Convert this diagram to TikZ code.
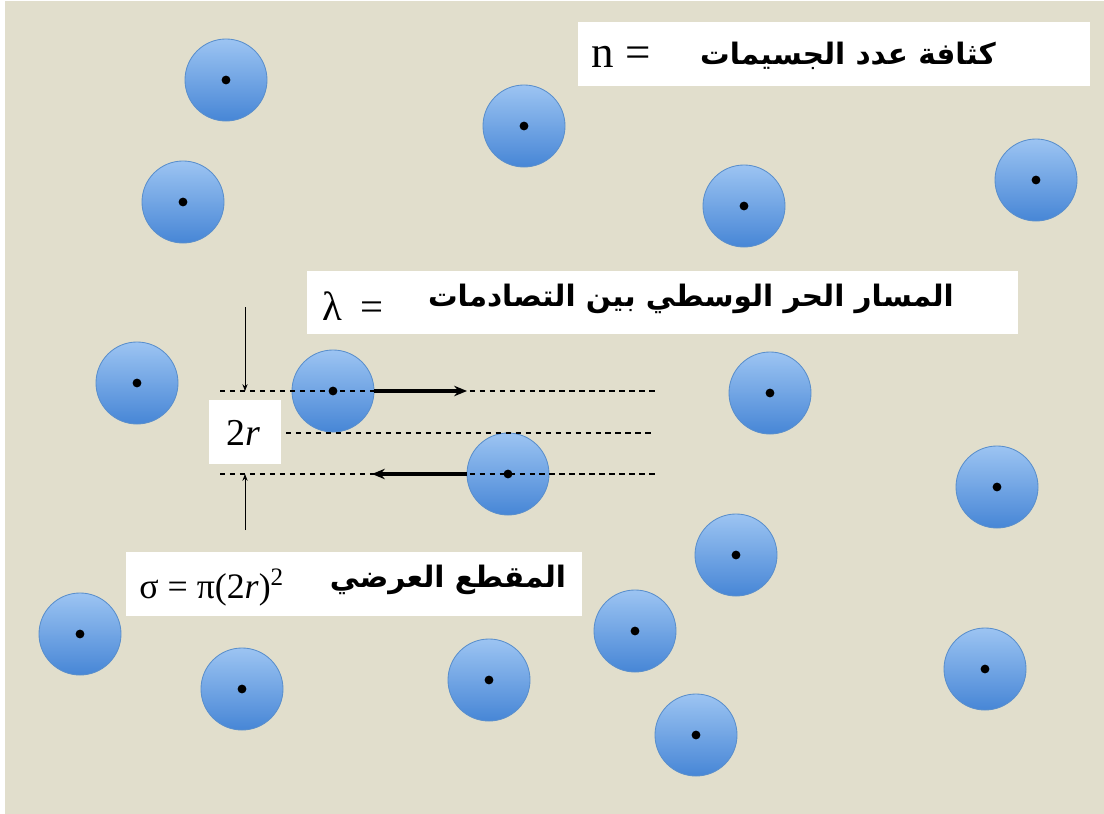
\documentclass[tikz,border=0pt]{standalone}
\usepackage{fontspec}
\setmainfont{Liberation Serif}
\newfontfamily\arabicfont[Script=Arabic]{DejaVu Sans}
\TeXXeTstate=1
\usetikzlibrary{arrows.meta}
\definecolor{bg}{HTML}{E1DECC}
\definecolor{ballTop}{HTML}{9CC4F2}
\definecolor{ballBot}{HTML}{4786D6}
\definecolor{ballEdge}{HTML}{5A8FCC}
\tikzset{
  ball/.style={circle, minimum size=2.05cm, inner sep=0pt, draw=ballEdge, line width=0.6pt,
    top color=ballTop, bottom color=ballBot},
  wbox/.style={fill=white, draw=none, inner sep=0pt},
  lat/.style={inner sep=0pt},
  arab/.style={font=\arabicfont\bfseries\fontsize{21}{25}\selectfont, inner sep=0pt},
  dline/.style={dash pattern=on 3.9pt off 3.2pt, line width=0.8pt},
  thick arrow/.style={line width=2.2pt, -{Stealth[length=0.32cm,width=0.26cm]}},
  thin arrow/.style={line width=0.6pt, -{Stealth[length=0.17cm,width=0.13cm]}},
}
\begin{document}
\begin{tikzpicture}[x=0.025cm, y=-0.025cm]
\useasboundingbox (0,0) rectangle (1104,814);
\fill[white] (0,0) rectangle (1104,814);
\fill[bg] (5,1) rectangle (1104,814);

% balls
\foreach \n/\x/\y in {1/226/80, 2/524/126, 3/183/202, 4/744/206, 5/1036/180,
  6/137/383, 7/333/391, 8/770/393, 9/508/474, 10/997/487, 11/736/555,
  12/80/634, 13/635/631, 14/242/689, 15/489/680, 16/696/735, 17/985/669}{
  \node[ball] (p\n) at (\x,\y) {};
}

% white boxes
\node[wbox, minimum width=12.8cm, minimum height=1.6cm] (boxn) at (834,54) {};
\node[wbox, minimum width=17.78cm, minimum height=1.58cm] (boxl) at (662.5,302.5) {};
\node[wbox, minimum width=1.8cm, minimum height=1.62cm] (box2r) at (245,432) {};
\node[wbox, minimum width=11.4cm, minimum height=1.6cm] (boxs) at (354,584) {};

% dashed lines
\coordinate (t1) at (220,391); \coordinate (t2) at (655,391);
\coordinate (m1) at (286,433); \coordinate (m2) at (655,433);
\coordinate (b1) at (220,474); \coordinate (b2) at (655,474);
\draw[dline] (t1) -- (t2);
\draw[dline] (m1) -- (m2);
\draw[dline] (b1) -- (b2);

% dots
\foreach \n in {1,...,17}{ \fill (p\n) circle[radius=0.11cm]; }

% thick arrows
\coordinate (a1) at (467,391);
\coordinate (a2) at (372,474);
\draw[thick arrow] (p7.east) -- (a1);
\draw[thick arrow] (p9.west) -- (a2);

% thin dimension arrows
\coordinate (u0) at (245,307); \coordinate (u1) at (245,391);
\coordinate (l0) at (245,530); \coordinate (l1) at (245,474);
\draw[thin arrow] (u0) -- (u1);
\draw[thin arrow] (l0) -- (l1);

% texts
\node[lat, anchor=base west, font=\fontsize{32}{36}\selectfont] (tn) at (591,68) {n =};
\node[arab] (tna) at (848,56) {\beginR كثافة عدد الجسيمات\endR};
\node[lat, anchor=base west, font=\fontsize{29}{33}\selectfont] (tl) at (322,320) {λ\hspace{0.45em}=};
\node[arab] (tla) at (691,299) {\beginR المسار الحر الوسطي بين التصادمات\endR};
\node[lat, font=\fontsize{27}{31}\selectfont] (t2r) at (243,433) {2\textit{r}};
\node[lat, anchor=base west, font=\fontsize{25.5}{30}\selectfont] (ts) at (139,598) {σ = π(2\textit{r})\textsuperscript{2}};
\node[arab] (tsa) at (448,580) {\beginR المقطع العرضي\endR};
\end{tikzpicture}
\end{document}
